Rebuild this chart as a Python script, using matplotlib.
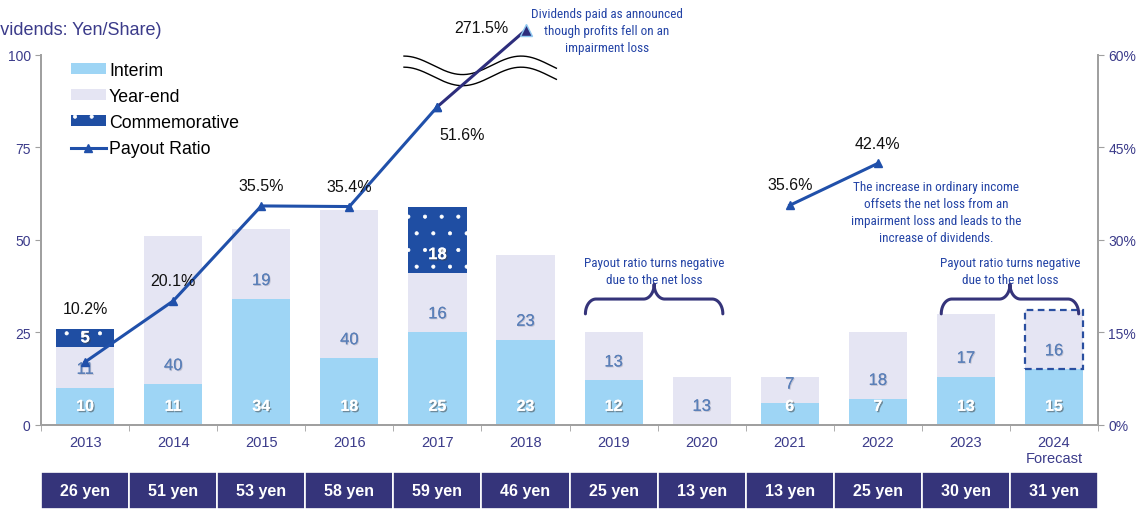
# dividends_payout_chart.py
# Stacked dividend bars (interim / year-end / commemorative) with payout-ratio line.

import numpy as np
import matplotlib.pyplot as plt
from matplotlib.patches import Rectangle, Patch
from matplotlib.lines import Line2D
import matplotlib.patheffects as pe

years = ["2013", "2014", "2015", "2016", "2017", "2018",
         "2019", "2020", "2021", "2022", "2023", "2024\nForecast"]
interim = [10, 11, 34, 18, 25, 23, 12, 0, 6, 7, 13, 15]
year_end = [11, 40, 19, 40, 16, 23, 13, 13, 7, 18, 17, 16]
commemorative = [5, 0, 0, 0, 18, 0, 0, 0, 0, 0, 0, 0]
totals = ["26 yen", "51 yen", "53 yen", "58 yen", "59 yen", "46 yen",
          "25 yen", "13 yen", "13 yen", "25 yen", "30 yen", "31 yen"]
payout = [10.2, 20.1, 35.5, 35.4, 51.6, 271.5,
          np.nan, np.nan, 35.6, 42.4, np.nan, np.nan]

C_INT = "#9ed5f5"
C_YE = "#e5e5f3"
C_COM = "#1f4ea3"
C_LINE = "#2050aa"
C_NAVY = "#35347a"
C_TICK = "#3b3b8a"
C_NOTE = "#2444a6"
NARROW = ["Roboto Condensed", "Liberation Sans Narrow", "Liberation Sans", "DejaVu Sans"]

plt.rcParams["font.family"] = ["Liberation Sans", "DejaVu Sans"]
plt.rcParams["hatch.linewidth"] = 0.5

fig = plt.figure(figsize=(11.42, 5.1), dpi=100)
ax = fig.add_axes([0.036, 0.165, 0.9255, 0.7255])
ax2 = ax.twinx()

x = np.arange(len(years))
interim = np.array(interim, float)
year_end = np.array(year_end, float)
commemorative = np.array(commemorative, float)
w = 0.66

ax.bar(x, interim, w, color=C_INT, zorder=2)
ax.bar(x, year_end, w, bottom=interim, color=C_YE, zorder=2)
has_com = commemorative > 0
ax.bar(x[has_com], commemorative[has_com], w, bottom=(interim + year_end)[has_com],
       facecolor=C_COM, edgecolor="white", hatch=".", lw=0, zorder=2)
# forecast year-end outline
i = len(years) - 1
ax.add_patch(Rectangle((x[i] - w / 2, interim[i]), w, year_end[i], fill=False,
                       edgecolor="#2a4fa0", ls=(0, (3, 2)), lw=1.6, zorder=3))

shadow = [pe.withSimplePatchShadow(offset=(1, -1), shadow_rgbFace="#404040", alpha=0.5), pe.Normal()]
for k in range(len(years)):
    if interim[k] > 0:
        ax.text(x[k], 5, f"{int(interim[k])}", ha="center", va="center",
                color="white", fontsize=11.5, fontweight="bold", path_effects=shadow, zorder=5)
    ax.text(x[k], interim[k] + 5, f"{int(year_end[k])}", ha="center", va="center",
            color="#5a7fb8", fontsize=12, zorder=5,
            path_effects=[pe.withSimplePatchShadow(offset=(0.7, -0.7), shadow_rgbFace="#9090a0", alpha=0.4), pe.Normal()])
    if commemorative[k] > 0:
        base = interim[k] + year_end[k]
        ax.text(x[k], base + min(5, commemorative[k] / 2), f"{int(commemorative[k])}",
                ha="center", va="center", color="white", fontsize=12, fontweight="bold",
                path_effects=shadow, zorder=5)

# payout ratio (2018 value is off scale, drawn above the break)
ymax2 = 60
payout = np.array(payout, float)
p_plot = np.minimum(payout, 64)
ax2.plot(x[:5], p_plot[:5], color=C_LINE, lw=2.2, marker="^", ms=6, zorder=4, clip_on=False)
ax2.plot(x[4:6], p_plot[4:6], color="#2d2d7c", lw=2.2, zorder=4, clip_on=False)
ax2.plot(x[4], p_plot[4], marker="^", ms=6, color=C_LINE, zorder=5)
ax2.plot(x[5], p_plot[5], marker="^", ms=8, color="#2d2d7c", mec="#8fc8f0", mew=1, zorder=5, clip_on=False)
ax2.plot(x[8:10], p_plot[8:10], color=C_LINE, lw=2.2, marker="^", ms=6, zorder=4)

pct_pos = {0: (0, 8.6), 1: (0, 3.3), 2: (0, 3.3), 3: (0, 3.3), 4: (0.28, -4.5),
           5: (-0.5, 0.4), 8: (0, 3.3), 9: (0, 3.3)}
for k, (dx, dy) in pct_pos.items():
    ax2.text(x[k] + dx, p_plot[k] + dy, f"{payout[k]:.1f}%", ha="center", va="center",
             fontsize=11.5, color="#111111", zorder=6, clip_on=False)

# break marks
t = np.linspace(x[4] - 0.38, x[5] + 0.35, 200)
wave = 1.5 * np.cos((t - t[0]) * 2 * np.pi / 1.33)
ax2.plot(t, 58.3 + wave, color="black", lw=1, zorder=3, clip_on=False)
ax2.plot(t, 56.5 + wave, color="black", lw=1, zorder=3, clip_on=False)


def brace(axis, xl, xr, y0, h, tip, color=C_NAVY):
    xm = (xl + xr) / 2
    r = 0.12
    s = np.linspace(0, np.pi / 2, 30)
    left = np.column_stack([xl + r - r * np.cos(s), y0 + h * np.sin(s)])
    mid_l = np.column_stack([xm - r + r * np.sin(s), y0 + h + tip * (1 - np.cos(s))])
    mid_r = np.column_stack([xm + r - r * np.sin(s[::-1]), y0 + h + tip * (1 - np.cos(s[::-1]))])
    right = np.column_stack([xr - r + r * np.cos(s[::-1]), y0 + h * np.sin(s[::-1])])
    pts = np.vstack([left, mid_l, mid_r, right])
    axis.plot(pts[:, 0], pts[:, 1], color=color, lw=2.2, solid_capstyle="round", zorder=4)


brace(ax, x[6] - 0.32, x[7] + 0.24, 30, 4, 4)
brace(ax, x[10] - 0.28, x[11] + 0.28, 30, 4, 4)

note_kw = dict(ha="center", va="center", color=C_NOTE, fontsize=9.5, family=NARROW, linespacing=1.4)
ax.text(6.46, 41.5, "Payout ratio turns negative\ndue to the net loss", **note_kw)
ax.text(10.5, 41.5, "Payout ratio turns negative\ndue to the net loss", **note_kw)
ax.text(9.66, 57.5, "The increase in ordinary income\noffsets the net loss from an\n"
        "impairment loss and leads to the\nincrease of dividends.", **note_kw)
ax.text(5.92, 106.5, "Dividends paid as announced\nthough profits fell on an\nimpairment loss",
        clip_on=False, **note_kw)

# axes styling
ax.set_xlim(-0.5, len(years) - 0.5)
ax.set_ylim(0, 100)
ax2.set_ylim(0, ymax2)
ax.set_yticks([0, 25, 50, 75, 100])
ax2.set_yticks([0, 15, 30, 45, 60])
ax2.set_yticklabels([f"{v}%" for v in [0, 15, 30, 45, 60]])
ax.set_xticks(x)
ax.set_xticklabels(years)
ax.set_xticks(np.arange(-0.5, len(years)), minor=True)
ax.tick_params(axis="x", which="major", length=0, pad=7, labelsize=10.5, colors=C_TICK)
ax.tick_params(axis="x", which="minor", length=4, color="#a0a0a0", direction="out")
ax.tick_params(axis="y", length=4, color="#a0a0a0", labelsize=10, labelcolor=C_TICK)
ax2.tick_params(axis="y", length=4, color="#a0a0a0", labelsize=10, labelcolor=C_TICK)
for a in (ax, ax2):
    a.spines["top"].set_visible(False)
    for s in ("left", "right", "bottom"):
        a.spines[s].set_color("#a0a0a0")
        a.spines[s].set_linewidth(1.3)

fig.text(0.141, 0.94, "(Dividends: Yen/Share)", ha="right", va="center", fontsize=13, color=C_TICK)

# legend
handles = [Patch(facecolor=C_INT, label="Interim"),
           Patch(facecolor=C_YE, label="Year-end"),
           Patch(facecolor=C_COM, edgecolor="white", hatch=".", lw=0, label="Commemorative"),
           Line2D([], [], color=C_LINE, lw=2.2, marker="^", ms=6, label="Payout Ratio")]
ax.legend(handles=handles, loc="upper left", bbox_to_anchor=(0.013, 1.025), frameon=False,
          fontsize=12.8, handlelength=1.95, handleheight=0.55, labelspacing=0.52, handletextpad=0.2)

# totals row
trans = ax.get_xaxis_transform()
for k in range(len(years)):
    ax.add_patch(Rectangle((x[k] - 0.5, -0.227), 1, 0.1, transform=trans, clip_on=False,
                           facecolor=C_NAVY, edgecolor="white", lw=1.2))
    ax.text(x[k], -0.177, totals[k], transform=trans, ha="center", va="center",
            color="white", fontsize=11.5, fontweight="bold")

fig.savefig("out.png", dpi=100)
